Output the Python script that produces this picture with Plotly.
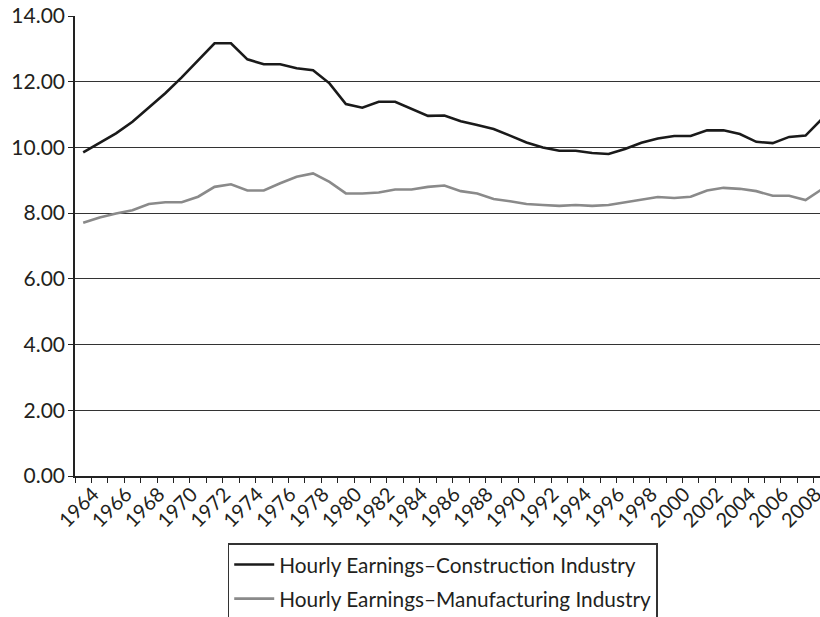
import plotly.graph_objects as go

years = list(range(1964, 2010))
construction = [9.85, 10.14, 10.43, 10.78, 11.22, 11.65, 12.13, 12.66, 13.17, 13.17,
                12.68, 12.53, 12.53, 12.41, 12.35, 11.95, 11.32, 11.21, 11.39, 11.39,
                11.18, 10.96, 10.97, 10.80, 10.68, 10.56, 10.36, 10.15, 10.00, 9.90,
                9.90, 9.83, 9.80, 9.95, 10.14, 10.27, 10.35, 10.35, 10.52, 10.52,
                10.41, 10.17, 10.13, 10.32, 10.36, 10.87]
manufacturing = [7.71, 7.87, 7.99, 8.09, 8.28, 8.33, 8.33, 8.50, 8.80, 8.88,
                 8.69, 8.69, 8.91, 9.11, 9.21, 8.95, 8.60, 8.60, 8.63, 8.72,
                 8.72, 8.80, 8.84, 8.67, 8.60, 8.43, 8.36, 8.28, 8.25, 8.22,
                 8.25, 8.22, 8.25, 8.33, 8.42, 8.49, 8.46, 8.50, 8.69, 8.77,
                 8.74, 8.67, 8.53, 8.53, 8.40, 8.73]
label_years = list(range(1964, 2010, 2))
series_names = ["Hourly Earnings\u2013Construction Industry",
                "Hourly Earnings\u2013Manufacturing Industry"]

FONT = "Lato, 'DejaVu Sans', sans-serif"
TXT = "#231f20"

fig = go.Figure()
fig.add_trace(go.Scatter(x=years, y=construction, mode="lines", name=series_names[0],
                         legendgroup="a", line=dict(color="#1a1a1a", width=2.6)))
fig.add_trace(go.Scatter(x=years, y=manufacturing, mode="lines", name=series_names[1],
                         legendgroup="b", line=dict(color="#8a8a8a", width=2.6)))

fig.update_layout(
    width=820, height=617,
    margin=dict(l=75, r=0, t=16, b=141, autoexpand=False),
    paper_bgcolor="white", plot_bgcolor="white",
    font=dict(family=FONT, size=20, color=TXT),
    showlegend=True,
    legend=dict(
        x=0.205, xanchor="left", y=-0.1457, yanchor="top",
        bgcolor="white", bordercolor="#333333", borderwidth=1.5,
        font=dict(family=FONT, size=20.8, color=TXT),
        tracegroupgap=4, itemwidth=40,
    ),
)

fig.update_xaxes(
    range=[1963.5, 2008.88], automargin=False,
    tickmode="array", tickvals=label_years, ticktext=[str(y) for y in label_years],
    tickangle=-45, ticks="", ticklabelshift=10, ticklabelstandoff=-3,
    ticklabeloverflow="allow",
    showline=True, linecolor="#222222", linewidth=1.5,
    showgrid=False, zeroline=False,
    minor=dict(tick0=1963.5, dtick=1, ticks="outside", ticklen=5, tickcolor="#222222", tickwidth=1),
    tickfont=dict(family=FONT, size=20, color=TXT),
)
fig.update_yaxes(
    range=[0, 14], dtick=2, tickformat=".2f", automargin=False,
    ticks="outside", ticklen=5, tickcolor="#222222", ticklabelstandoff=-1,
    ticklabeloverflow="allow",
    showline=True, linecolor="#222222", linewidth=1.5,
    showgrid=True, gridcolor="#333333", gridwidth=1,
    zeroline=False,
    tickfont=dict(family=FONT, size=21, color=TXT),
)

fig.write_html("out.html", config={"displayModeBar": False},
               post_script="document.body.style.margin='0';document.body.style.overflow='hidden';")
